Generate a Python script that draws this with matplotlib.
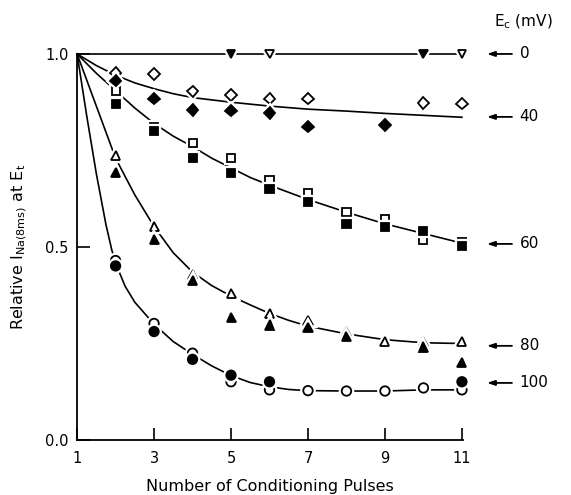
""" Inactivacion de I_Na con trenes de pulsos condicionantes """

import matplotlib
matplotlib.use("Agg")
import matplotlib.pyplot as plt
import matplotlib.patheffects as pe

# E_c = 0 mV
X0_ABIERTO = [6, 11]
Y0_ABIERTO = [1.0, 1.0]
X0_LLENO = [5, 10]
Y0_LLENO = [1.0, 1.0]
X0_CURVA = [1, 11]
Y0_CURVA = [1.0, 1.0]

# E_c = 40 mV
X40_ABIERTO = [2, 3, 4, 5, 6, 7, 10, 11]
Y40_ABIERTO = [0.951, 0.948, 0.903, 0.894, 0.884, 0.884, 0.873, 0.871]
X40_LLENO = [2, 3, 4, 5, 6, 7, 9]
Y40_LLENO = [0.931, 0.884, 0.855, 0.853, 0.847, 0.812, 0.816]
X40_CURVA = [1, 1.5, 2, 2.5, 3, 3.5, 4, 5, 6, 7, 8, 9, 10, 11]
Y40_CURVA = [1.0, 0.97, 0.945, 0.925, 0.91, 0.897, 0.887, 0.875, 0.865,
             0.857, 0.852, 0.846, 0.841, 0.836]

# E_c = 60 mV
X60_ABIERTO = [2, 3, 4, 5, 6, 7, 8, 9, 10, 11]
Y60_ABIERTO = [0.905, 0.811, 0.770, 0.730, 0.674, 0.641, 0.591, 0.573, 0.518, 0.512]
X60_LLENO = [2, 3, 4, 5, 6, 7, 8, 9, 10, 11]
Y60_LLENO = [0.870, 0.800, 0.730, 0.691, 0.650, 0.616, 0.559, 0.551, 0.541, 0.503]
X60_CURVA = [1, 1.5, 2, 2.5, 3, 3.5, 4, 4.5, 5, 5.5, 6, 7, 8, 9, 10, 11]
Y60_CURVA = [1.0, 0.95, 0.905, 0.86, 0.82, 0.787, 0.76, 0.73, 0.705, 0.68,
             0.66, 0.623, 0.59, 0.56, 0.535, 0.51]

# E_c = 80 mV
X80_ABIERTO = [2, 3, 4, 5, 6, 7, 8, 9, 10, 11]
Y80_ABIERTO = [0.738, 0.552, 0.428, 0.380, 0.328, 0.309, 0.280, 0.254, 0.256, 0.255]
X80_LLENO = [2, 3, 4, 5, 6, 7, 8, 10, 11]
Y80_LLENO = [0.692, 0.520, 0.414, 0.318, 0.298, 0.292, 0.267, 0.241, 0.200]
X80_CURVA = [1, 1.5, 2, 2.5, 3, 3.5, 4, 4.5, 5, 5.5, 6, 6.5, 7, 8, 9, 10, 11]
Y80_CURVA = [1.0, 0.865, 0.73, 0.635, 0.553, 0.485, 0.435, 0.40, 0.373, 0.35,
             0.328, 0.31, 0.295, 0.275, 0.26, 0.252, 0.25]

# E_c = 100 mV
X100_ABIERTO = [2, 3, 4, 5, 6, 7, 8, 9, 10, 11]
Y100_ABIERTO = [0.465, 0.302, 0.225, 0.151, 0.130, 0.128, 0.127, 0.127, 0.135, 0.130]
X100_LLENO = [2, 3, 4, 5, 6, 11]
Y100_LLENO = [0.451, 0.281, 0.209, 0.168, 0.151, 0.151]
X100_CURVA = [1, 1.25, 1.5, 1.75, 1.9, 2, 2.25, 2.5, 3, 3.5, 4, 4.5, 5, 5.5,
              6, 6.5, 7, 8, 9, 10, 11]
Y100_CURVA = [1.0, 0.84, 0.69, 0.558, 0.493, 0.458, 0.398, 0.357, 0.30, 0.255,
              0.222, 0.192, 0.167, 0.149, 0.138, 0.131, 0.128, 0.127, 0.127,
              0.13, 0.13]

EC_ETIQUETAS = ["0", "40", "60", "80", "100"]
EC_FLECHA_Y = [1.0, 0.837, 0.508, 0.244, 0.148]

SERIES = [
  ("v", 6.0, X0_ABIERTO, Y0_ABIERTO, X0_LLENO, Y0_LLENO, X0_CURVA, Y0_CURVA),
  ("D", 5.8, X40_ABIERTO, Y40_ABIERTO, X40_LLENO, Y40_LLENO, X40_CURVA, Y40_CURVA),
  ("s", 5.8, X60_ABIERTO, Y60_ABIERTO, X60_LLENO, Y60_LLENO, X60_CURVA, Y60_CURVA),
  ("^", 6.5, X80_ABIERTO, Y80_ABIERTO, X80_LLENO, Y80_LLENO, X80_CURVA, Y80_CURVA),
  ("o", 6.8, X100_ABIERTO, Y100_ABIERTO, X100_LLENO, Y100_LLENO, X100_CURVA, Y100_CURVA),
]

HALO = [pe.withStroke(linewidth=4.5, foreground="white")]


def grafica() -> None:
  fig = plt.figure(figsize=(5.71, 4.95), dpi=100)
  ax = fig.add_axes([0.135, 0.111, 0.676, 0.780])

  for marca, tam, xa, ya, xl, yl, xc, yc in SERIES:
    ax.plot(xc, yc, "-", color="black", lw=1.2, zorder=2, clip_on=False)
    ax.plot(xa, ya, linestyle="none", marker=marca, ms=tam, mfc="white",
            mec="black", mew=1.3, zorder=3, clip_on=False, path_effects=HALO)
    ax.plot(xl, yl, linestyle="none", marker=marca, ms=tam, mfc="black",
            mec="black", mew=1.3, zorder=4, clip_on=False, path_effects=HALO)

  for etiqueta, y in zip(EC_ETIQUETAS, EC_FLECHA_Y):
    ax.annotate("", xy=(11.65, y), xytext=(12.3, y), annotation_clip=False,
                arrowprops=dict(arrowstyle="-|>,head_length=0.45,head_width=0.15",
                                color="black", lw=1.3, shrinkA=0, shrinkB=0))
    ax.text(12.5, y, etiqueta, ha="left", va="center", fontsize=11)

  ax.text(11.83, 1.083, r"E$_\mathrm{c}$ (mV)", ha="left", va="center", fontsize=11)

  ax.set_xlim(1, 11.03)
  ax.set_ylim(0, 1.0)
  ax.set_xticks([1, 3, 5, 7, 9, 11])
  ax.set_yticks([0.0, 0.5, 1.0])
  ax.set_yticklabels(["0.0", "0.5", "1.0"])
  ax.tick_params(direction="in", length=9, width=1.2, labelsize=10.5)
  ax.tick_params(axis="x", pad=8)
  ax.tick_params(axis="y", pad=6)
  ax.spines["top"].set_visible(False)
  ax.spines["right"].set_visible(False)
  ax.spines["left"].set_linewidth(1.3)
  ax.spines["bottom"].set_linewidth(1.3)

  ax.set_xlabel("Number of Conditioning Pulses", fontsize=11.5, labelpad=9)
  ax.set_ylabel(r"Relative I$_\mathrm{Na(8ms)}$ at E$_\mathrm{t}$",
                fontsize=11.5, labelpad=12)

  fig.savefig("out.png", dpi=100)


if __name__ == "__main__":
  grafica()
